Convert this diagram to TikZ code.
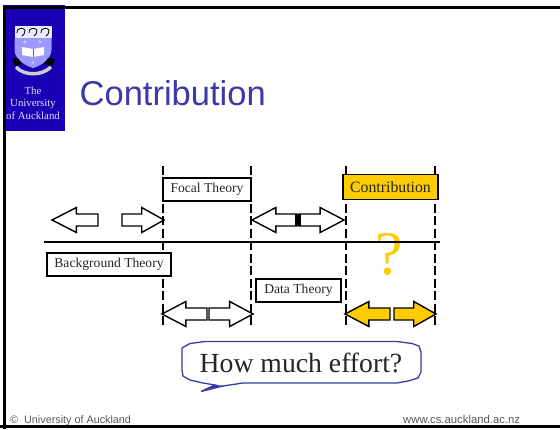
\documentclass[tikz,border=0pt]{standalone}
\usepackage{fontspec}
\setmainfont{Liberation Serif}
\newfontfamily\sansf{Liberation Sans}
\newfontfamily\logof{Liberation Serif}
\definecolor{logoblue}{HTML}{1A00B4}
\definecolor{titleblue}{HTML}{3A3AA6}
\definecolor{gold}{HTML}{FFCC00}
\tikzset{
  x=1pt,y=-1pt,
  labelbox/.style={draw=black,fill=white,line width=1.3pt,inner sep=0pt,font=\fontsize{13.6}{14}\selectfont,text=black!85,anchor=center},
  solidrule/.style={line width=1.5pt,black},
  dashrule/.style={line width=1.5pt,black,dash pattern=on 9pt off 3.5pt},
  blockarrow/.style={draw=black,line width=1.4pt,fill=white,line join=miter},
  goldarrow/.style={blockarrow,fill=gold},
  logotext/.style={text=white!88!blue,font=\logof\fontsize{10.8}{12.5}\selectfont,align=center},
  footer/.style={text=black!65,anchor=base west},
}
\newcommand{\leftarrowshape}[3]{% tip x, butt x, centre y
  (#1,#3) -- ({#1+(#2-#1)*0.53},{#3-12.5}) -- ({#1+(#2-#1)*0.53},{#3-6}) -- (#2,{#3-6}) -- (#2,{#3+6}) -- ({#1+(#2-#1)*0.53},{#3+6}) -- ({#1+(#2-#1)*0.53},{#3+12.5}) -- cycle}
\begin{document}
\begin{tikzpicture}
\useasboundingbox (0,0) rectangle (560,429);
\fill[white] (0,0) rectangle (560,429);
% logo
\fill[logoblue] (3,5) rectangle (64.5,131);
% frame
\draw[line width=2.6pt,black] (4.3,429) -- (4.3,7.5) -- (560,7.5);
\fill[logoblue] (5.6,9) rectangle (64.5,131);
\draw[line width=3pt,black] (0,426.5) -- (560,426.5);
\fill[white!92!blue] (14.5,26) rectangle (51.5,38);
\foreach \cx in {21,33,45}{\draw[black,line width=.8pt] (\cx-4,33) .. controls (\cx-5,28) and (\cx+2,27) .. (\cx+4,30) .. controls (\cx+5,33) and (\cx+2,35) .. (\cx+1,36);}
\fill[blue!40!white] (14.5,38) -- (51.5,38) -- (51.5,50) .. controls (51,60) and (40,66) .. (33,68) .. controls (26,66) and (15,60) .. (14.5,50) -- cycle;
\fill[white] (22,47) -- (33,49) -- (44,47) -- (44,55) -- (33,57) -- (22,55) -- cycle;
\draw[black!60,line width=.4pt] (33,49) -- (33,57);
\foreach \sx/\sy in {25/42,40/42,33/63}{\node[text=white,font=\fontsize{6}{6}\selectfont,inner sep=0pt] at (\sx,\sy) {$\star$};}
\fill[black] (12,59) -- (18,58) -- (22,64) -- (15,66) -- cycle;
\fill[black] (55,59) -- (48,58) -- (44,64) -- (52,66) -- cycle;
\draw[white!80!black,line width=3.5pt] (16,67) .. controls (24,76) and (42,76) .. (51,67);
\node[logotext] (logotext) at (33,103) {The\\University\\of Auckland};
% title
\node[font=\sansf\fontsize{34.5}{36}\selectfont,text=titleblue,anchor=base west,inner sep=0pt] (title) at (79.5,105) {Contribution};
% question mark beneath the axis
\node[text=gold,font=\logof\fontsize{62}{62}\selectfont,inner sep=0pt,anchor=base] (qmark) at (389,274) {?};
% axis
\coordinate (axisL) at (44,242);
\coordinate (axisR) at (440,242);
\draw[solidrule] (axisL) -- (axisR);
% dashed verticals
\coordinate (a1) at (163,166); \coordinate (a2) at (163,328);
\coordinate (b1) at (251,166); \coordinate (b2) at (251,328);
\coordinate (c1) at (346,166); \coordinate (c2) at (346,328);
\coordinate (d1) at (435,166); \coordinate (d2) at (435,328);
\draw[dashrule] (a1) -- (a2);
\draw[dashrule] (b1) -- (b2);
\draw[dashrule] (c1) -- (c2);
\draw[dashrule] (d1) -- (d2);
% labels
\node[labelbox,minimum width=88pt,minimum height=23pt] (focal) at (207,189.5) {Focal Theory};
\node[labelbox,minimum width=124pt,minimum height=23pt] (background) at (109,264.5) {Background Theory};
\node[labelbox,minimum width=85pt,minimum height=23pt] (data) at (298.5,290.5) {Data Theory};
\node[labelbox,fill=gold,minimum width=95pt,minimum height=25pt,font=\fontsize{15.8}{16}\selectfont] (contrib) at (390.5,187) {Contribution};
% arrows: upper row
\draw[blockarrow] \leftarrowshape{52}{98}{220};
\draw[blockarrow] \leftarrowshape{164}{122}{220};
\draw[blockarrow] \leftarrowshape{252}{297}{220};
\draw[blockarrow] \leftarrowshape{344}{299}{220};
\fill[black] (295,214) rectangle (300.5,226);
% arrows: lower row
\draw[blockarrow] \leftarrowshape{162}{207}{314};
\draw[blockarrow] \leftarrowshape{253}{209}{314};
\draw[goldarrow] \leftarrowshape{345}{390}{314};
\draw[goldarrow] \leftarrowshape{436}{394}{314};
% callout
\draw[titleblue,line width=1.3pt,fill=white] (182,348) -- (190,343.5) -- (205,341.5) -- (397,341.5) -- (412,343.5) -- (419,346) -- (421,352) -- (421,372) -- (418,378) -- (408,381) -- (397,383) -- (243,383) -- (223,386) -- (201,391.5) -- (215,385) -- (203,383) -- (190,380) -- (183,376) -- (182,370) -- cycle;
\fill[titleblue] (201,391.5) -- (214,385) -- (223,385.5) -- cycle;
\node[inner sep=0pt,font=\fontsize{27.7}{28}\selectfont,text=black!85] (effort) at (301,363) {How much effort?};
% footers
\node[footer,inner sep=0pt,font=\sansf\fontsize{10.8}{12}\selectfont] (copy) at (10,423) {©\ \ University of Auckland};
\node[footer,inner sep=0pt,font=\sansf\fontsize{11.3}{12}\selectfont] (url) at (403,423) {www.cs.auckland.ac.nz};
\end{tikzpicture}
\end{document}
